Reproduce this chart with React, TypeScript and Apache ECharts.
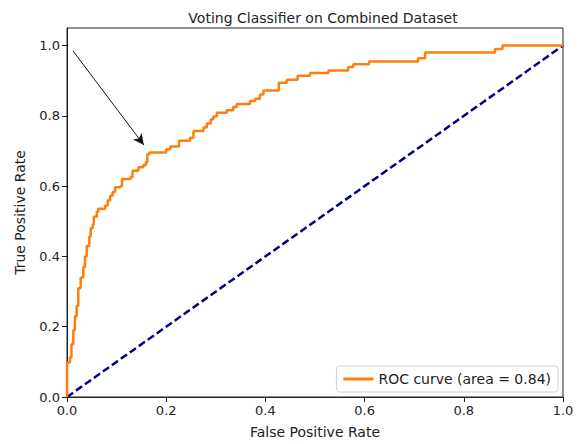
import React, { useEffect, useRef } from "react";
import * as echarts from "echarts";

const TITLE = "Voting Classifier on Combined Dataset";
const ROC_LABEL = "ROC curve (area = 0.84)";
const TICKS = [0, 0.2, 0.4, 0.6, 0.8, 1.0];

// ROC step points: [fpr where jump happens, tpr after jump]
const rocFpr = [
  0, 0, 0.006, 0.009, 0.0127, 0.016, 0.0196, 0.0228, 0.0276, 0.0329, 0.0363,
  0.0397, 0.045, 0.0478, 0.0518, 0.054, 0.06, 0.063, 0.077, 0.082, 0.087,
  0.092, 0.097, 0.107, 0.111, 0.128, 0.132, 0.144, 0.154, 0.159, 0.162, 0.166,
  0.2, 0.208, 0.226, 0.248, 0.255, 0.275, 0.282, 0.29, 0.295, 0.302, 0.322,
  0.335, 0.342, 0.369, 0.379, 0.389, 0.396, 0.427, 0.443, 0.465, 0.49, 0.527,
  0.567, 0.577, 0.609, 0.708, 0.722, 0.863, 0.878, 1.0,
];
const rocTpr = [
  0, 0.098, 0.113, 0.15, 0.19, 0.23, 0.26, 0.31, 0.34, 0.37, 0.4, 0.43, 0.457,
  0.48, 0.49, 0.513, 0.527, 0.536, 0.545, 0.56, 0.573, 0.583, 0.597, 0.6, 0.62,
  0.625, 0.644, 0.654, 0.66, 0.668, 0.691, 0.696, 0.705, 0.713, 0.729, 0.738,
  0.757, 0.767, 0.778, 0.79, 0.798, 0.809, 0.816, 0.825, 0.834, 0.842, 0.849,
  0.861, 0.872, 0.894, 0.903, 0.914, 0.922, 0.929, 0.939, 0.947, 0.955, 0.964,
  0.98, 0.99, 1.0, 1.0,
];
const diagX = [0, 1];
const diagY = [0, 1];
const arrowStart = [0.012, 0.985];
const arrowEnd = [0.155, 0.717];

const FONT = "DejaVu Sans";

export default function App() {
  const ref = useRef<HTMLDivElement>(null);
  useEffect(() => {
    document.body.style.margin = "0";
    if (!ref.current) return;
    const chart = echarts.init(ref.current, null, { renderer: "svg" });
    const axisCommon = {
      type: "value" as const,
      interval: 0.2,
      axisLine: { show: true, onZero: false, lineStyle: { color: "#222", width: 1 } },
      axisTick: { show: true, length: 5, customValues: TICKS, lineStyle: { color: "#222" } },
      axisLabel: {
        customValues: TICKS,
        formatter: (v: number) => v.toFixed(1),
        color: "#222",
        fontFamily: FONT,
        fontSize: 13,
      },
      splitLine: { show: false },
      nameLocation: "middle" as const,
      nameTextStyle: { color: "#222", fontFamily: FONT, fontSize: 14 },
    };
    chart.setOption({
      animation: false,
      backgroundColor: "#fff",
      title: {
        text: TITLE,
        left: 318,
        textAlign: "center",
        top: 6,
        textStyle: { fontFamily: FONT, fontSize: 14, fontWeight: "normal", color: "#222" },
      },
      grid: {
        left: 67,
        right: 17,
        top: 28,
        bottom: 44,
        show: true,
        borderColor: "#222",
        borderWidth: 1,
        backgroundColor: "transparent",
      },
      xAxis: {
        ...axisCommon,
        min: 0,
        max: 1,
        name: "False Positive Rate",
        nameGap: 28,
        axisLabel: { ...axisCommon.axisLabel, margin: 7 },
      },
      yAxis: {
        ...axisCommon,
        min: 0,
        max: 1.05,
        name: "True Positive Rate",
        nameGap: 40,
        axisLabel: { ...axisCommon.axisLabel, margin: 7 },
      },
      legend: {
        data: [ROC_LABEL],
        right: 22,
        bottom: 52,
        orient: "vertical",
        backgroundColor: "#fff",
        borderColor: "#d0d0d0",
        borderWidth: 1,
        borderRadius: 3,
        padding: [6, 7, 6, 7],
        itemWidth: 30,
        itemHeight: 3,
        itemGap: 10,
        icon: "rect",
        textStyle: { fontFamily: FONT, fontSize: 14, color: "#222" },
      },
      series: [
        {
          name: ROC_LABEL,
          type: "line",
          step: "end",
          data: rocFpr.map((x, i) => [x, rocTpr[i]]),
          showSymbol: false,
          symbol: "none",
          lineStyle: { color: "#ff7f0e", width: 2.5 },
          itemStyle: { color: "#ff7f0e" },
          z: 3,
        },
        {
          name: "diag",
          type: "line",
          data: diagX.map((x, i) => [x, diagY[i]]),
          showSymbol: false,
          symbol: "none",
          lineStyle: { color: "#000080", width: 2.5, type: [7.5, 3.5] },
          z: 2,
        },
        {
          name: "arrow",
          type: "line",
          data: [],
          markLine: {
            silent: true,
            symbol: ["none", "arrow"],
            symbolSize: [8, 11],
            label: { show: false },
            lineStyle: { color: "#111", width: 1, type: "solid" },
            data: [[{ coord: arrowStart }, { coord: arrowEnd }]],
          },
          z: 4,
        },
      ],
    });
    return () => chart.dispose();
  }, []);
  return <div ref={ref} style={{ width: 580, height: 444 }} />;
}
